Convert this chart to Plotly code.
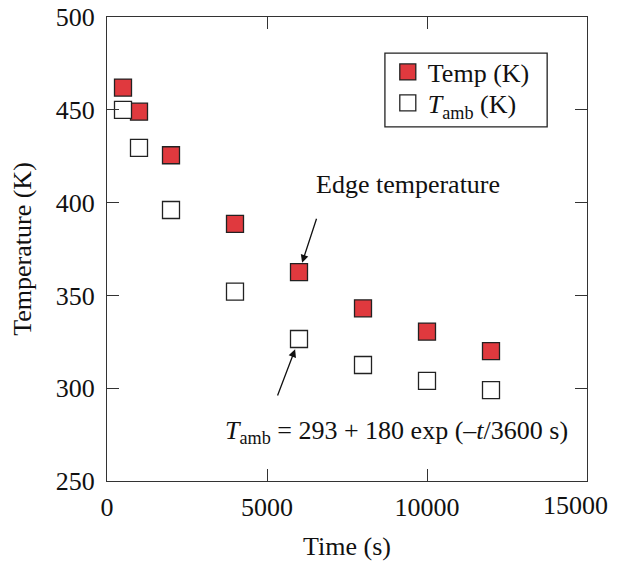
import plotly.graph_objects as go

time_s = [500, 1000, 2000, 4000, 6000, 8000, 10000, 12000]
temp_k = [462, 449, 425.5, 388.5, 362.5, 343, 330.5, 320]
tamb_k = [450, 429.5, 396, 352, 326.5, 312.5, 304, 299]

x_ticks = [0, 5000, 10000, 15000]
x_tick_text = ["0", "5000", "10000", ""]
y_ticks = [250, 300, 350, 400, 450, 500]

FONT = "Liberation Serif, Times New Roman, serif"
FS = 26
TXT = "#111111"

fig = go.Figure()
fig.add_trace(go.Scatter(
    x=time_s, y=temp_k, mode="markers", name="Temp (K)", legend="legend",
    marker=dict(symbol="square", size=17, color="#e0393e",
                line=dict(color="#222222", width=1.3)),
))
fig.add_trace(go.Scatter(
    x=time_s, y=tamb_k, mode="markers", name="<i>T</i><sub>amb</sub> (K)",
    legend="legend2",
    marker=dict(symbol="square", size=17, color="white",
                line=dict(color="#222222", width=1.3)),
))

axis_common = dict(
    showline=True, linecolor="#333333", linewidth=1.3, mirror="ticks",
    ticks="inside", ticklen=12, tickwidth=1.3, tickcolor="#333333",
    showgrid=False, zeroline=False, automargin=False,
    tickfont=dict(family=FONT, size=FS, color=TXT),
    title_font=dict(family=FONT, size=FS, color=TXT),
)

fig.update_xaxes(range=[0, 15000], tickvals=x_ticks, ticktext=x_tick_text,
                 title_text="Time (s)", title_standoff=15, ticklabelstandoff=3,
                 **axis_common)
fig.update_yaxes(range=[250, 500], tickvals=y_ticks, title_text="Temperature (K)",
                 title_standoff=16, ticklabelstandoff=6, **axis_common)

# last x tick label, nudged inward so it stays on the page
fig.add_annotation(
    x=x_ticks[-1], y=0, xref="x", yref="paper", text="15000",
    showarrow=False, xanchor="center", yanchor="top", xshift=-12, yshift=-8,
    font=dict(family=FONT, size=FS, color=TXT),
)

# Edge temperature arrow + label
fig.add_annotation(
    x=6000, y=362.5, xref="x", yref="y",
    ax=18, ay=-55, axref="pixel", ayref="pixel",
    text="", showarrow=True, arrowhead=2, arrowsize=1.2, arrowwidth=1.3,
    arrowcolor=TXT, standoff=10,
)
fig.add_annotation(
    x=0.627, y=0.638, xref="paper", yref="paper", text="Edge temperature",
    showarrow=False, font=dict(family=FONT, size=FS, color=TXT),
)

# T_amb formula arrow + label
fig.add_annotation(
    x=6000, y=326.5, xref="x", yref="y",
    ax=-22, ay=58, axref="pixel", ayref="pixel",
    text="", showarrow=True, arrowhead=2, arrowsize=1.2, arrowwidth=1.3,
    arrowcolor=TXT, standoff=11,
)
fig.add_annotation(
    x=0.604, y=0.067, xref="paper", yref="paper",
    text="<i>T</i><sub>amb</sub> = 293 + 180 exp (\u2013<i>t</i>/3600 s)",
    showarrow=False, font=dict(family=FONT, size=FS, color=TXT),
)

# legend frame
fig.add_shape(type="rect", xref="paper", yref="paper",
              x0=0.579, x1=0.917, y0=0.763, y1=0.922,
              line=dict(color="#222222", width=1.3), fillcolor="rgba(0,0,0,0)")

leg_common = dict(xanchor="left", yanchor="middle", borderwidth=0,
                  bgcolor="rgba(0,0,0,0)", itemwidth=30,
                  font=dict(family=FONT, size=FS, color=TXT))

fig.update_layout(
    width=618, height=564,
    margin=dict(l=107, r=31, t=17, b=83),
    paper_bgcolor="white", plot_bgcolor="white",
    showlegend=True,
    legend=dict(x=0.585, y=0.8815, **leg_common),
    legend2=dict(x=0.585, y=0.8146, **leg_common),
)
fig.write_html("out.html")
